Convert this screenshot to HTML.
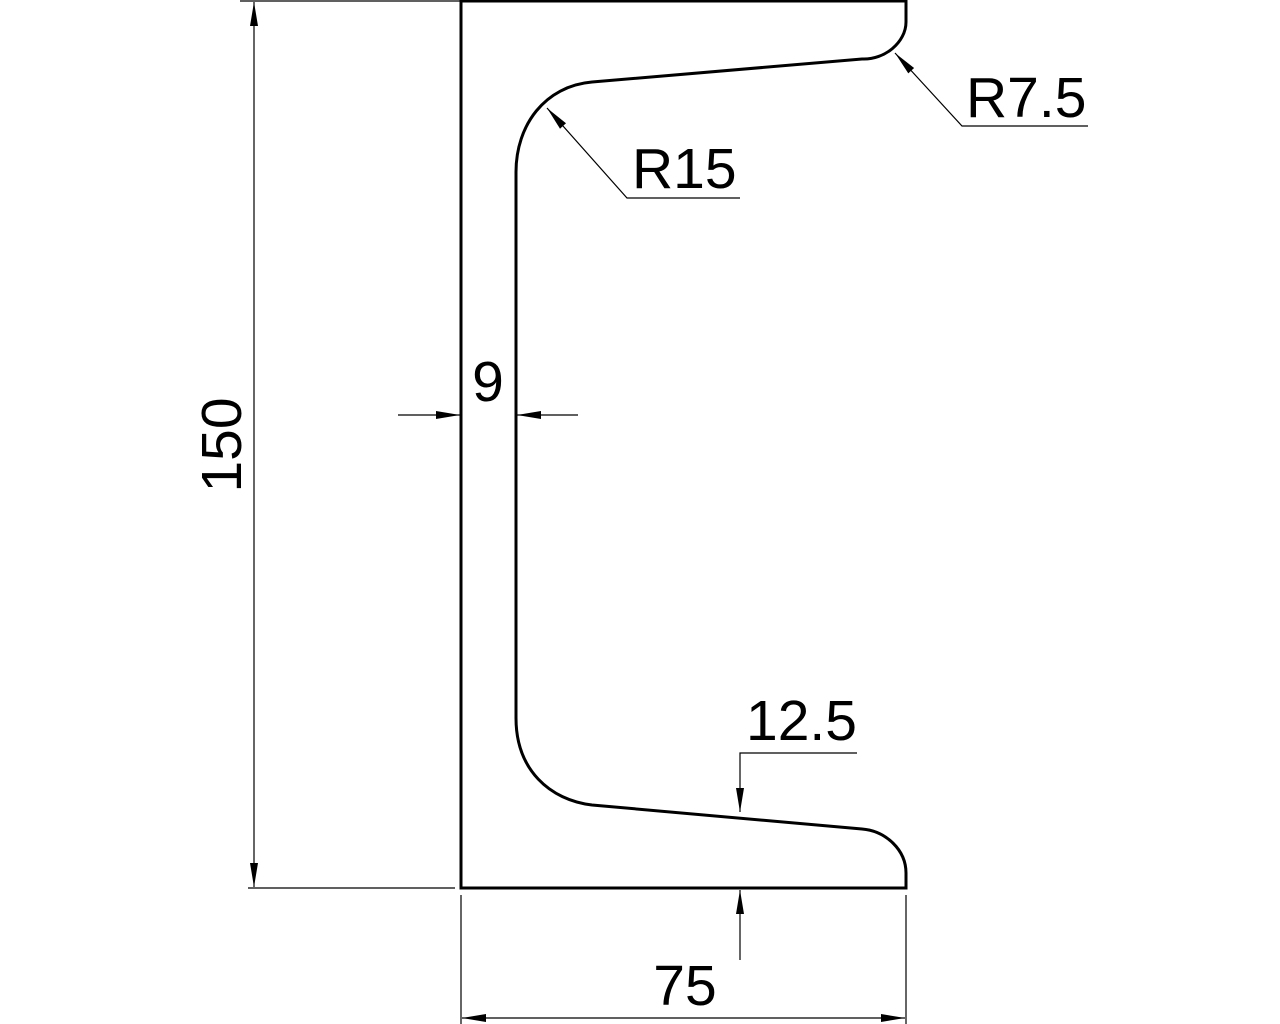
<!DOCTYPE html>
<html><head><style>body{margin:0;background:#fff}svg{display:block}</style></head>
<body>
<svg width="1280" height="1024" viewBox="0 0 1280 1024" xmlns="http://www.w3.org/2000/svg" font-family="Liberation Sans, sans-serif">
<g fill="none" stroke="#000" stroke-width="3">
<path d="M461,1 L906,1 L906,22 C906,42 885,60 862,59 L592,82 C545,86 516,125 516,172 L516,718 C516,770 550,800 592,805 L862,829 C886,831 906,850 906,873 L906,888 L461,888 Z"/>
</g>
<g stroke="#000" stroke-width="1.2" fill="none">
<line x1="240" y1="1" x2="461" y2="1"/>
<line x1="248" y1="888" x2="455" y2="888"/>
<line x1="254" y1="2" x2="254" y2="887"/>
<line x1="461" y1="895" x2="461" y2="1024"/>
<line x1="906" y1="895" x2="906" y2="1024"/>
<line x1="462" y1="1018" x2="905" y2="1018"/>
<line x1="398" y1="415" x2="460" y2="415"/>
<line x1="578" y1="415" x2="517" y2="415"/>
<polyline points="740,198 627,198 547,108"/>
<polyline points="1088,126 962,126 895,53"/>
<polyline points="857,753 740,753 740,812"/>
<line x1="740" y1="960" x2="740" y2="890"/>
</g>
<g fill="#000">
<polygon points="254,2 250,26 258,26"/>
<polygon points="254,887 250,863 258,863"/>
<polygon points="462,1018 486,1014 486,1022"/>
<polygon points="905,1018 881,1014 881,1022"/>
<polygon points="460,415 436,411 436,419"/>
<polygon points="517,415 541,411 541,419"/>
<polygon points="740,812 736,788 744,788"/>
<polygon points="740,890 736,914 744,914"/>
<polygon points="547,108 566,123.3 560,128.7"/>
<polygon points="895,53 914.1,68 908.3,73.4"/>
</g>
<g fill="#000" font-size="57">
<text x="632" y="188">R15</text>
<text x="966" y="117">R7.5</text>
<text x="746" y="740">12.5</text>
<text x="685" y="1005" text-anchor="middle">75</text>
<text x="488" y="401" text-anchor="middle">9</text>
<text transform="translate(241,445) rotate(-90)" text-anchor="middle">150</text>
</g>
</svg>
</body></html>
